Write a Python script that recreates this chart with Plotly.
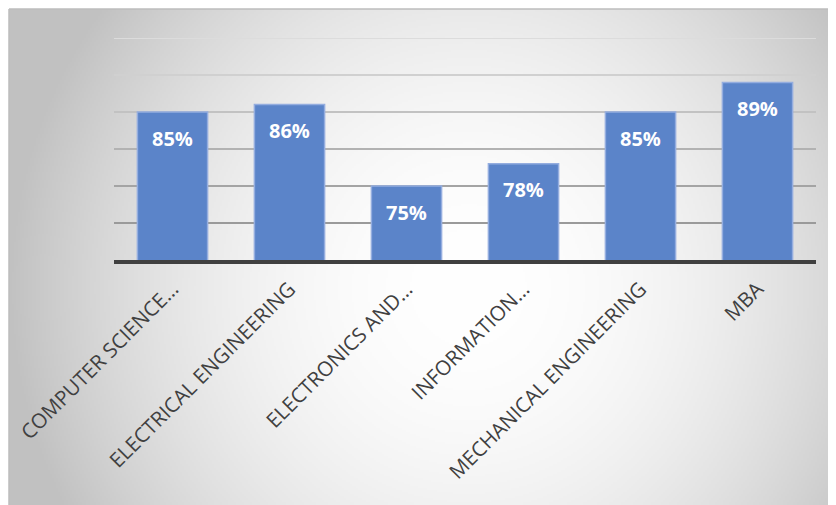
import base64
import struct
import zlib

import numpy as np
import plotly.graph_objects as go

# ---------------- data ----------------
categories = [
    "COMPUTER SCIENCE…",
    "ELECTRICAL ENGINEERING",
    "ELECTRONICS AND…",
    "INFORMATION…",
    "MECHANICAL ENGINEERING",
    "MBA",
]
values = [85, 86, 75, 78, 85, 89]
value_labels = ["85%", "86%", "75%", "78%", "85%", "89%"]
grid_values = [70, 75, 80, 85, 90, 95]
grid_colors = ["#9a9a9a", "#a4a4a4", "#b2b2b2", "#c2c2c2", "#d0d0d0", "#dcdcdc"]
y_range = [65, 95]

# ---------------- layout geometry (page has an 8px body margin) ----------------
W, H = 828, 497
ML, MR, MT, MB = 106, 20, 30, 245
PW, PH = W - ML - MR, H - MT - MB


def px_x(px):
    return (px - ML) / PW


def px_y(py):
    return (H - MB - py) / PH


# ---------------- background gradient image ----------------
def make_png(arr):
    h, w = arr.shape
    raw = b"".join(b"\x00" + arr[i].tobytes() for i in range(h))

    def chunk(t, d):
        return struct.pack(">I", len(d)) + t + d + struct.pack(">I", zlib.crc32(t + d) & 0xFFFFFFFF)

    ihdr = struct.pack(">IIBBBBB", w, h, 8, 0, 0, 0, 0)
    return b"\x89PNG\r\n\x1a\n" + chunk(b"IHDR", ihdr) + chunk(b"IDAT", zlib.compress(raw, 9)) + chunk(b"IEND", b"")


BX0, BY0 = 1, 1
bw, bh = (W - BX0) // 2, (H - BY0) // 2
xs = BX0 + (np.arange(bw) + 0.5) * 2
ys = BY0 + (np.arange(bh) + 0.5) * 2
X, Y = np.meshgrid(xs, ys)
cx, cy, rx, ry = 460, 280, 460, 470
r = np.sqrt(((X - cx) / rx) ** 2 + ((Y - cy) / ry) ** 2)
g = 255 - 62 * np.clip(r, 0, 1) ** 2
img = np.clip(g, 0, 255).astype(np.uint8)
src = "data:image/png;base64," + base64.b64encode(make_png(img)).decode()

fig = go.Figure()

fig.add_trace(
    go.Bar(
        x=categories,
        y=values,
        width=0.6,
        marker=dict(color="#5b84c9", line=dict(color="#94addf", width=1.5)),
        hoverinfo="skip",
    )
)

annotations = []
for c, v, t in zip(categories, values, value_labels):
    annotations.append(
        dict(
            x=c, y=v, text=t, showarrow=False, yshift=-26, yanchor="middle",
            font=dict(family="Open Sans", size=20, color="white", weight="bold"),
        )
    )

shapes = []
for v, col in zip(grid_values, grid_colors):
    shapes.append(
        dict(type="line", xref="paper", yref="y", x0=0, x1=1, y0=v, y1=v,
             line=dict(color=col, width=2), layer="below")
    )
# chart border (top & left)
border_col = "#bdbdbd"
shapes.append(dict(type="line", xref="paper", yref="paper", x0=px_x(BX0), x1=px_x(W),
                   y0=px_y(BY0), y1=px_y(BY0), line=dict(color=border_col, width=1.5)))
shapes.append(dict(type="line", xref="paper", yref="paper", x0=px_x(BX0), x1=px_x(BX0),
                   y0=px_y(BY0), y1=px_y(H), line=dict(color=border_col, width=1.5)))

fig.update_layout(
    width=W, height=H,
    margin=dict(l=ML, r=MR, t=MT, b=MB, pad=0, autoexpand=False),
    paper_bgcolor="white",
    plot_bgcolor="rgba(0,0,0,0)",
    showlegend=False,
    annotations=annotations,
    shapes=shapes,
    images=[dict(source=src, xref="paper", yref="paper", x=px_x(BX0), y=px_y(BY0),
                 sizex=(W - BX0) / PW, sizey=(H - BY0) / PH, xanchor="left", yanchor="top",
                 sizing="stretch", layer="below")],
    xaxis=dict(
        tickangle=-45, automargin=False, ticklabelstandoff=5,
        tickfont=dict(family="Open Sans", size=20.5, color="#404040"),
        showline=True, linecolor="#404040", linewidth=4,
        ticks="", showgrid=False, zeroline=False,
    ),
    yaxis=dict(range=y_range, showgrid=False, zeroline=False, showticklabels=False, ticks="",
               automargin=False),
)

fig.write_html("out.html")
